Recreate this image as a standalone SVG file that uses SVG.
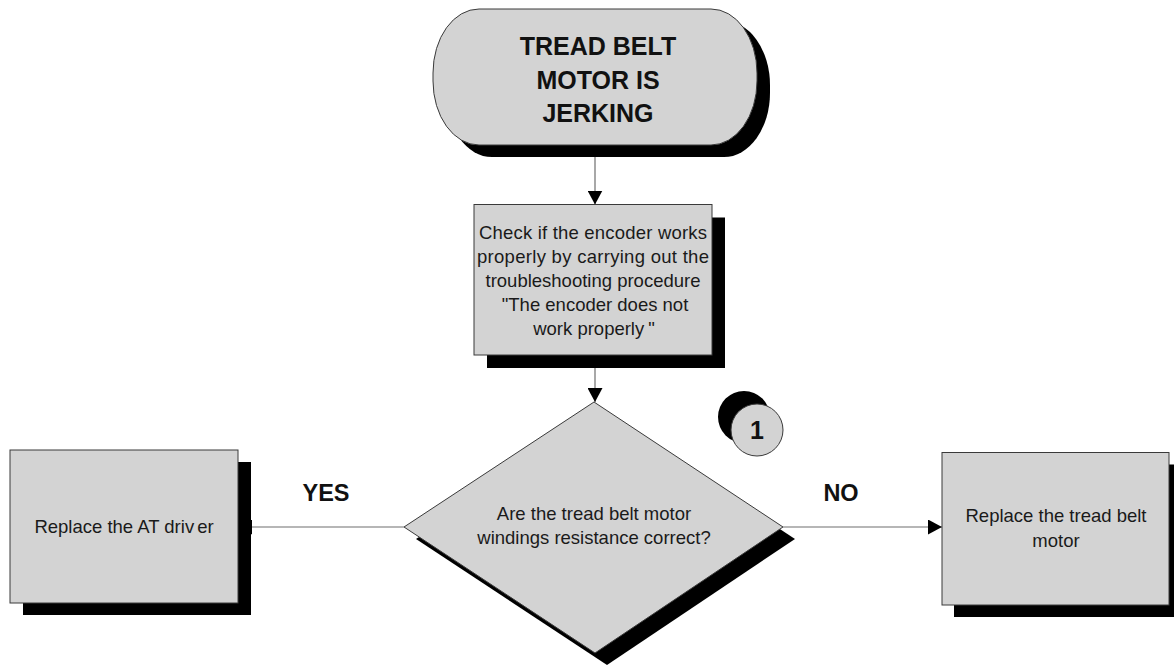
<svg xmlns="http://www.w3.org/2000/svg" width="1174" height="668" viewBox="0 0 1174 668">
  <defs>
    <marker id="arrow" markerUnits="userSpaceOnUse" markerWidth="15" markerHeight="15" refX="14" refY="7.5" orient="auto">
      <path d="M0,0 L14,7.5 L0,15 Z" fill="#000"/>
    </marker>
  </defs>
  <style>
    .shadow { fill: #000; }
    .shape { fill: #d3d3d3; stroke: #3a3a3a; stroke-width: 1; }
    .conn { fill: none; stroke: #6e6e6e; stroke-width: 1.2; marker-end: url(#arrow); }
    .txt { font-family: "Liberation Sans", Arial, sans-serif; font-size: 18.5px; fill: #1a1a1a; text-anchor: middle; }
    .title { font-family: "Liberation Sans", Arial, sans-serif; font-size: 25px; font-weight: bold; fill: #111; text-anchor: middle; }
    .label { font-family: "Liberation Sans", Arial, sans-serif; font-size: 23.5px; font-weight: bold; fill: #111; text-anchor: middle; }
  </style>
  <rect width="1174" height="668" fill="#fff"/>

  <!-- connectors (drawn first so shapes and shadows sit on top) -->
  <g id="connectors">
    <line class="conn" x1="595" y1="145" x2="595" y2="204.5"/>
    <line class="conn" x1="595" y1="355" x2="595" y2="402"/>
    <line class="conn" x1="404" y1="527" x2="238" y2="527"/>
    <line class="conn" x1="783" y1="527" x2="942" y2="527"/>
  </g>

  <!-- start terminator -->
  <g id="start">
    <rect class="shadow" x="446" y="21" width="324" height="136" rx="46" ry="64"/>
    <rect class="shape" x="433" y="9" width="324" height="136" rx="46" ry="64"/>
    <text class="title" x="598" y="55">TREAD BELT</text>
    <text class="title" x="598" y="88.5">MOTOR IS</text>
    <text class="title" x="598" y="122">JERKING</text>
  </g>

  <!-- encoder check -->
  <g id="check-encoder">
    <rect class="shadow" x="487" y="217.5" width="238" height="150.5"/>
    <rect class="shape" x="474" y="204.5" width="238" height="150.5"/>
    <text class="txt" x="593" y="239" textLength="228" lengthAdjust="spacing">Check if the encoder works</text>
    <text class="txt" x="593" y="263" textLength="232" lengthAdjust="spacing">properly by carrying out the</text>
    <text class="txt" x="593" y="287">troubleshooting procedure</text>
    <text class="txt" x="595" y="311">"The encoder does not</text>
    <text class="txt" x="594" y="335">work properly<tspan dx="4">"</tspan></text>
  </g>

  <!-- decision -->
  <g id="decision">
    <polygon class="shadow" points="606,414 795,539 607,665 416,539"/>
    <polygon class="shape" points="594,402 783,527 595,653 404,527"/>
    <text class="txt" x="594" y="520">Are the tread belt motor</text>
    <text class="txt" x="594" y="544">windings resistance correct?</text>
  </g>

  <!-- page connector -->
  <g id="connector-1">
    <circle class="shadow" cx="744" cy="417" r="26"/>
    <circle class="shape" cx="757" cy="430" r="26"/>
    <text class="label" x="757" y="439" style="font-size:25px">1</text>
  </g>

  <!-- YES branch -->
  <g id="replace-driver">
    <rect class="shadow" x="23" y="462" width="228" height="153"/>
    <rect class="shape" x="10" y="450" width="228" height="153"/>
    <text class="txt" x="124" y="533">Replace the AT driv<tspan dx="3">er</tspan></text>
  </g>

  <!-- NO branch -->
  <g id="replace-motor">
    <rect class="shadow" x="954" y="464.5" width="227" height="152.5"/>
    <rect class="shape" x="942" y="452.5" width="227" height="152.5"/>
    <text class="txt" x="1056" y="522">Replace the tread belt</text>
    <text class="txt" x="1056" y="547">motor</text>
  </g>

  <!-- branch labels -->
  <g id="labels">
    <text class="label" x="326" y="501">YES</text>
    <text class="label" x="841" y="501">NO</text>
  </g>
</svg>
